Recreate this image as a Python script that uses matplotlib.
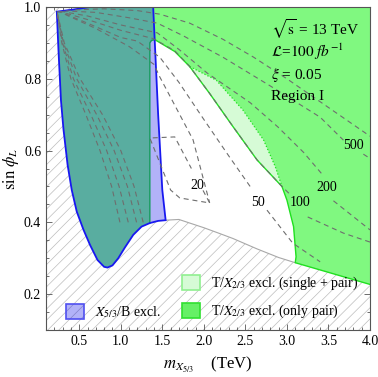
import matplotlib
matplotlib.use("Agg")
import matplotlib.pyplot as plt
from matplotlib.patches import Polygon, Patch, Rectangle

plt.rcParams['font.family'] = ['Liberation Serif', 'DejaVu Serif']
plt.rcParams['mathtext.fontset'] = 'stix'
plt.rcParams['hatch.linewidth'] = 0.5

# left side + bottom of the X5/3/B excluded region (top-left corner -> bottom right)
edge_x = [0.23, 0.25, 0.28, 0.31, 0.36, 0.41, 0.47, 0.55, 0.63, 0.72, 0.80, 0.84,
          0.90, 0.97, 1.05, 1.15, 1.25, 1.35, 1.45, 1.54]
edge_y = [0.987, 0.88, 0.74, 0.66, 0.56, 0.49, 0.43, 0.38, 0.337, 0.295, 0.276, 0.274,
          0.28, 0.30, 0.33, 0.365, 0.388, 0.398, 0.404, 0.406]
# right side and top of the blue region
blue_top_x = [1.50, 1.45, 1.39, 0.63, 0.43]
blue_top_y = [0.49, 0.70, 1.0, 1.0, 0.993]
# lower edge of the allowed region (gray line)
gray_x = [1.54, 1.70, 1.83, 2.0, 2.2, 2.35, 2.64, 2.9, 3.10]
gray_y = [0.406, 0.408, 0.398, 0.385, 0.368, 0.355, 0.326, 0.302, 0.2875]
# only-pair exclusion boundary
pair_x = [1.35, 1.35, 1.37, 1.41, 1.65, 1.83, 2.15, 2.47, 2.72, 2.86, 2.94, 3.0, 3.08, 3.11, 3.10, 4.0]
pair_y = [0.398, 0.90, 0.907, 0.909, 0.876, 0.834, 0.796, 0.713, 0.629, 0.555, 0.50, 0.462,
          0.388, 0.304, 0.2875, 0.227]
# single + pair boundary where it differs from the pair one
single_x = [1.83, 2.07, 2.35, 2.64, 2.94]
single_y = [0.834, 0.759, 0.667, 0.574, 0.50]

# dashed event contours (left branch, corner, right branch; "b" = piece after the label)
c1000_x = [0.99, 0.89, 0.75, 0.58, 0.40, 0.29, 0.23, 0.8, 1.2, 1.47, 1.83, 2.23, 2.6, 3.0, 3.5, 4.0]
c1000_y = [0.40, 0.50, 0.60, 0.70, 0.80, 0.90, 0.99, 0.995, 0.99, 0.98, 0.955, 0.91, 0.86, 0.80, 0.72, 0.64]
c500_x = [1.09, 0.98, 0.83, 0.64, 0.43, 0.30, 0.23, 0.7, 1.1, 1.44, 1.75, 2.23, 2.8, 3.40, 3.68]
c500_y = [0.40, 0.50, 0.60, 0.70, 0.80, 0.90, 0.99, 0.985, 0.97, 0.955, 0.92, 0.86, 0.78, 0.693, 0.629]
c500b_x = [3.92, 4.0]
c500b_y = [0.59, 0.578]
c200_x = [1.19, 1.08, 0.92, 0.71, 0.47, 0.31, 0.23, 0.6, 1.0, 1.44, 1.71, 2.04, 2.56, 2.89, 3.2, 3.42]
c200_y = [0.40, 0.50, 0.60, 0.70, 0.80, 0.90, 0.99, 0.975, 0.95, 0.928, 0.88, 0.816, 0.733, 0.666, 0.595, 0.535]
c200b_x = [3.56, 4.0]
c200b_y = [0.46, 0.379]
c100_x = [1.27, 1.16, 1.00, 0.78, 0.51, 0.32, 0.23, 0.6, 1.0, 1.39, 1.65, 1.83, 2.07, 2.35, 2.64, 2.94, 3.05]
c100_y = [0.40, 0.50, 0.60, 0.70, 0.80, 0.90, 0.99, 0.965, 0.935, 0.912, 0.878, 0.834, 0.759, 0.667, 0.574, 0.50, 0.475]
c100b_x = [3.25, 3.68, 4.0]
c100b_y = [0.415, 0.37, 0.345]
c50_x = [0.23, 0.6, 1.0, 1.2, 1.47, 1.7, 1.99, 2.3, 2.56]
c50_y = [0.99, 0.955, 0.915, 0.905, 0.86, 0.79, 0.69, 0.585, 0.499]
c50b_x = [2.76, 3.07, 3.4]
c50b_y = [0.434, 0.342, 0.29]
c30_x = [0.23, 0.7, 1.1, 1.40, 1.47, 1.87, 2.07]
c30_y = [0.99, 0.94, 0.89, 0.84, 0.805, 0.63, 0.454]
c20_x = [1.99, 2.07, 1.71, 1.60, 1.35, 1.65, 1.85]
c20_y = [0.489, 0.454, 0.468, 0.49, 0.635, 0.638, 0.55]

lab_x = [1.92, 2.65, 3.16, 3.48, 3.80]
lab_y = [0.504, 0.454, 0.454, 0.498, 0.613]
lab_txt = ['20', '50', '100', '200', '500']

blue_fill = (0.0, 0.0, 0.92, 0.3)
blue_edge = '#1818f0'
green_fill = '#80f880'
light_fill = '#d6fbd6'
green_edge = '#20e020'


def pts(xs, ys):
    return list(zip(xs, ys))


fig = plt.figure(figsize=(3.78, 3.77), dpi=100)
ax = fig.add_axes([46 / 378, 47 / 377, 324 / 378, 323 / 377])
ax.set_xlim(0.1, 4.0)
ax.set_ylim(0.1, 1.0)

# hatched background = theoretically excluded
ax.add_patch(Rectangle((0, 0), 1, 1, transform=ax.transAxes, facecolor='white',
                       edgecolor='#bdbdbd', hatch='///', lw=0, zorder=0))

top_close = [(4.0, 0.227), (4.0, 1.0), (0.63, 1.0), (0.43, 0.993)]
allowed = Polygon(pts(edge_x, edge_y) + pts(gray_x[1:], gray_y[1:]) + top_close,
                  closed=True, facecolor='white', edgecolor='none', zorder=1)
ax.add_patch(allowed)
ax.plot(gray_x, gray_y, color='#a8a8a8', lw=0.8, zorder=1.5)

n_left = edge_x.index(1.35)
left_part = pts(edge_x[:n_left], edge_y[:n_left])
band_start = pair_x.index(1.83)
band_end = pair_x.index(2.94)
single_path = pts(pair_x[:band_start], pair_y[:band_start]) + pts(single_x, single_y) + \
    pts(pair_x[band_end + 1:], pair_y[band_end + 1:])

ax.add_patch(Polygon(left_part + single_path + top_close[1:], closed=True,
                     facecolor=light_fill, edgecolor='none', zorder=2))
ax.add_patch(Polygon(left_part + pts(pair_x, pair_y) + top_close[1:], closed=True,
                     facecolor=green_fill, edgecolor='none', zorder=2.1))
sx, sy = zip(*single_path)
ax.plot(sx, sy, color=green_edge, lw=1.0, zorder=2.5)
ax.plot(pair_x[band_start:band_end + 1], pair_y[band_start:band_end + 1],
        color=green_edge, lw=0.9, ls=':', zorder=2.5)

ax.add_patch(Polygon(pts(edge_x, edge_y) + pts(blue_top_x, blue_top_y), closed=True,
                     facecolor=blue_fill, edgecolor=blue_edge, lw=1.3, zorder=3))

for cx, cy in [(c1000_x, c1000_y), (c500_x, c500_y), (c500b_x, c500b_y),
               (c200_x, c200_y), (c200b_x, c200b_y), (c100_x, c100_y),
               (c100b_x, c100b_y), (c50_x, c50_y), (c50b_x, c50b_y),
               (c30_x, c30_y), (c20_x, c20_y)]:
    line, = ax.plot(cx, cy, color='#6e6e6e', lw=0.8, dashes=(4.5, 3.5), zorder=4)
    line.set_clip_path(allowed)

for x, y, t in zip(lab_x, lab_y, lab_txt):
    ax.text(x, y, t, fontsize=10, ha='center', va='center', zorder=5)

ax.text(2.81, 0.938, r'$\sqrt{\mathrm{s}}$ = 13 TeV', fontsize=11, va='center', zorder=5)
ax.text(2.81, 0.874, r'$\mathcal{L}$=$\mathit{100\ fb}^{-1}$', fontsize=11, va='center', zorder=5)
ax.text(2.81, 0.810, r'$\xi$ = 0.05', fontsize=11, va='center', zorder=5)
ax.text(2.81, 0.751, 'Region I', fontsize=11, va='center', zorder=5)

ax.set_xticks([0.5, 1.0, 1.5, 2.0, 2.5, 3.0, 3.5, 4.0])
ax.set_xticks([i / 10 for i in range(1, 41)], minor=True)
ax.set_yticks([0.2, 0.4, 0.6, 0.8, 1.0])
ax.set_yticks([0.1 + i * 0.05 for i in range(19)], minor=True)
ax.tick_params(which='both', direction='in', top=True, right=True, color='#555555',
               labelsize=10, width=0.6)
ax.tick_params(which='major', length=4)
ax.tick_params(which='minor', length=2)
for s in ax.spines.values():
    s.set_color('#555555')
    s.set_linewidth(0.8)
    s.set_zorder(6)

ax.set_ylabel(r'$\mathrm{sin}\ \phi_L$', fontsize=12, labelpad=2)
ax.set_xlabel(r'$m_{X_{5/3}}$    (TeV)', fontsize=12, labelpad=5)

h_blue = Patch(facecolor=blue_fill, edgecolor='#5050f0', lw=1.2, label=r'$X_{5/3}$/B excl.')
h_light = Patch(facecolor=light_fill, edgecolor='#90f090', lw=1.2,
                label=r'T/$X_{2/3}$ excl. (single + pair)')
h_green = Patch(facecolor='#66f066', edgecolor='#30e030', lw=1.2,
                label=r'T/$X_{2/3}$ excl. (only pair)')
leg1 = ax.legend(handles=[h_blue], loc='lower left', bbox_to_anchor=(0.062, 0.03),
                 frameon=False, fontsize=10, handlelength=1.3, handleheight=1.3,
                 handletextpad=0.8, borderpad=0, borderaxespad=0)
leg1.set_zorder(7)
ax.add_artist(leg1)
leg2 = ax.legend(handles=[h_light, h_green], loc='lower left', bbox_to_anchor=(0.42, 0.03),
                 frameon=False, fontsize=10, handlelength=1.3, handleheight=1.3,
                 handletextpad=0.8, borderpad=0, borderaxespad=0, labelspacing=0.75)
leg2.set_zorder(7)

fig.savefig('out.png', dpi=100)
